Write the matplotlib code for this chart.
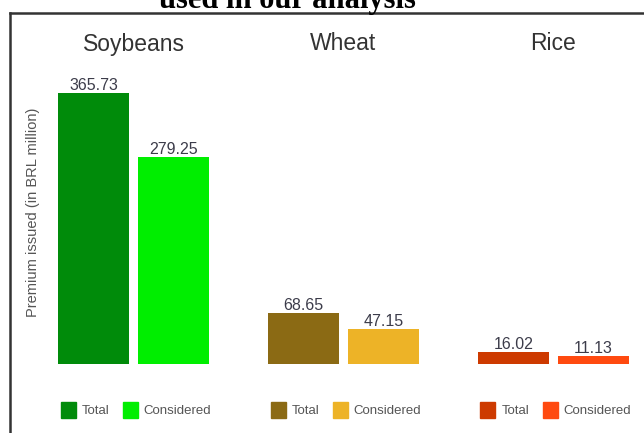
import matplotlib
matplotlib.use("Agg")
import matplotlib.pyplot as plt
from matplotlib.patches import Rectangle
from matplotlib.lines import Line2D

plt.rcParams["font.family"] = ["Liberation Sans", "DejaVu Sans"]

crops = ["Soybeans", "Wheat", "Rice"]
series = ["Total", "Considered"]
total = [365.73, 68.65, 16.02]
considered = [279.25, 47.15, 11.13]
total_colors = ["#008B0A", "#8B6A14", "#CD3A00"]
considered_colors = ["#00EE00", "#EDB327", "#FF4A10"]

W, H = 644, 433
fig = plt.figure(figsize=(W / 100, H / 100), dpi=100)
fig.patch.set_facecolor("white")

def fx(px):
    return px / W

def fy(py):
    return 1 - py / H

# main axes: zero line at y=364 px, top of tallest bar at 93 px
ax = fig.add_axes([0, fy(364), 1, (364 - 93) / H])
ax.set_ylim(0, 365.73)
ax.set_xlim(-133.5 / 210, (644 - 133.5) / 210)
ax.axis("off")

off, bw = 0.19, 0.338
for i, c in enumerate(crops):
    ax.bar(i - off, total[i], width=bw, color=total_colors[i])
    ax.bar(i + off, considered[i], width=bw, color=considered_colors[i])
    ax.text(i - off, total[i], f"{total[i]:.2f}", ha="center", va="bottom",
            fontsize=11.5, color="#3c3c4a", clip_on=False)
    ax.text(i + off, considered[i], f"{considered[i]:.2f}", ha="center", va="bottom",
            fontsize=11.5, color="#3c3c4a", clip_on=False)
    # panel titles
    xc = ax.transData.transform((i, 0))[0] / W
    fig.text(xc, fy(44), c, ha="center", va="center", fontsize=16.5, color="#333333")
    # legends
    lx = xc * W - 73
    fig.patches.append(Rectangle((fx(lx), fy(418)), 15 / W, 16 / H,
                                 transform=fig.transFigure, color=total_colors[i]))
    fig.text(fx(lx + 21), fy(411), series[0], ha="left", va="center",
             fontsize=9.5, color="#555555")
    lx2 = lx + 62
    fig.patches.append(Rectangle((fx(lx2), fy(418)), 15 / W, 16 / H,
                                 transform=fig.transFigure, color=considered_colors[i]))
    fig.text(fx(lx2 + 21), fy(411), series[1], ha="left", va="center",
             fontsize=9.5, color="#555555")

fig.text(fx(33), fy(212), "Premium issued (in BRL million)", rotation=90,
         ha="center", va="center", fontsize=10.5, color="#555555")

# document frame
fig.add_artist(Line2D([fx(10), fx(10)], [fy(13), 0], color="#333333", lw=1.8,
                      transform=fig.transFigure))
fig.add_artist(Line2D([fx(10), 1], [fy(13), fy(13)], color="#333333", lw=1.8,
                      transform=fig.transFigure))

# cut-off caption from the document
fig.text(fx(287), fy(8), "used in our analysis", ha="center", va="baseline",
         fontsize=22, fontweight="bold", family="Liberation Serif", color="black")

fig.savefig("out.png", dpi=100)
